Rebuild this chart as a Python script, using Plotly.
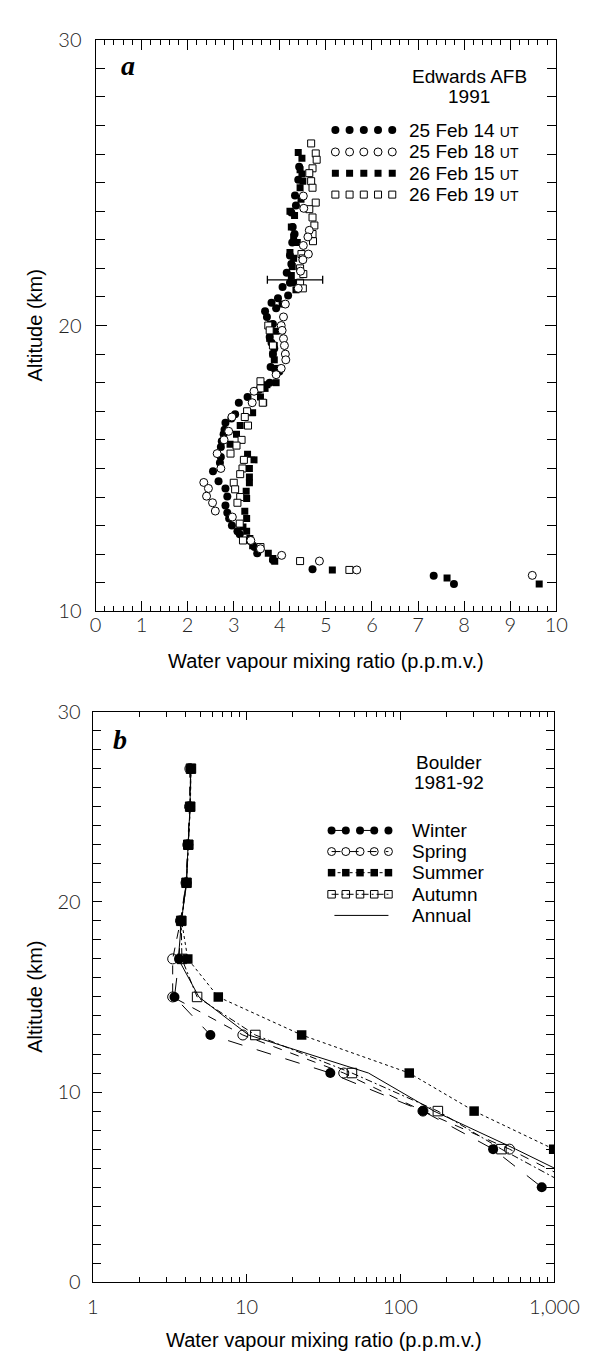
import plotly.graph_objects as go

W, H = 596, 1358

# ---------------- Panel a : Edwards AFB 1991 (altitude km, mixing ratio ppmv) ----------------
a_s1_alt = [25.55, 25.1, 24.55, 24.2, 23.95, 23.45, 23.2, 22.9, 22.45, 22.15, 21.85, 21.5, 21.35, 21.05,
            20.95, 20.8, 20.6, 20.5, 20.3, 20.05, 19.8, 19.6, 19.4, 19.2, 19.0, 18.55, 18.45, 18.39, 18.0,
            17.75, 17.5, 17.3, 16.9, 16.75, 16.6, 16.35, 16.2, 15.95, 15.75, 15.4, 15.2, 14.9, 14.55, 14.3,
            14.02, 13.7, 13.45, 13.25, 13.0, 12.8, 12.7, 12.46, 12.25, 12.03, 11.8, 11.47, 11.25, 10.96]
a_s1_val = [4.42, 4.40, 4.33, 4.35, 4.25, 4.28, 4.32, 4.27, 4.22, 4.25, 4.15, 4.22, 4.06, 4.18,
            3.96, 3.82, 3.92, 3.68, 3.72, 3.85, 3.80, 3.78, 3.82, 3.88, 3.85, 3.80, 3.90, 3.99, 3.78,
            3.55, 3.30, 3.11, 3.03, 2.95, 2.82, 2.80, 2.78, 2.74, 2.72, 2.72, 2.70, 2.55, 2.67, 2.82,
            2.86, 2.82, 2.86, 2.90, 2.96, 3.08, 3.13, 3.36, 3.45, 3.51, 3.85, 4.71, 7.34, 7.78]

a_s2_alt = [24.53, 24.1, 23.33, 23.1, 22.8, 22.5, 22.3, 21.9, 21.3, 20.75, 20.3, 20.0, 19.83, 19.54,
            19.3, 19.0, 18.8, 18.5, 18.28, 17.7, 17.3, 16.8, 16.3, 16.0, 15.52, 15.0, 14.51, 14.3, 14.03,
            13.8, 13.51, 13.3, 12.48, 12.19, 11.96, 11.76, 11.45, 11.26]
a_s2_val = [4.51, 4.52, 4.64, 4.61, 4.51, 4.62, 4.50, 4.45, 4.40, 4.12, 4.08, 4.03, 4.05, 4.08,
            4.10, 4.12, 4.13, 4.03, 3.92, 3.44, 3.40, 2.96, 2.89, 2.79, 2.64, 2.72, 2.35, 2.45, 2.41,
            2.54, 2.60, 2.97, 3.37, 3.58, 4.04, 4.86, 5.67, 9.48]

a_s3_alt = [26.05, 25.85, 25.45, 25.3, 25.05, 24.82, 24.42, 24.0, 23.85, 23.45, 23.1, 22.9, 22.55, 22.35,
            22.06, 21.75, 21.5, 21.25, 20.75, 20.05, 19.8, 19.55, 19.3, 19.0, 18.8, 18.5, 18.0, 17.93,
            17.8, 17.5, 17.3, 16.95, 16.5, 16.2, 15.85, 15.5, 15.3, 15.0, 14.7, 14.5, 14.2, 13.95, 13.5,
            13.25, 12.95, 12.8, 12.55, 12.3, 12.03, 11.85, 11.75, 11.45, 11.17, 10.96]
a_s3_val = [4.40, 4.48, 4.44, 4.48, 4.50, 4.44, 4.46, 4.22, 4.32, 4.25, 4.30, 4.38, 4.22, 4.30,
            4.27, 4.25, 4.30, 4.35, 4.05, 3.80, 3.92, 3.78, 3.88, 3.85, 3.88, 3.95, 3.92, 3.72,
            3.68, 3.58, 3.65, 3.41, 3.14, 3.06, 2.92, 3.30, 3.44, 3.34, 3.34, 3.34, 3.27, 3.28, 3.24,
            3.28, 3.20, 3.28, 3.35, 3.41, 3.75, 3.85, 3.89, 5.14, 7.63, 9.63]

a_s4_alt = [26.37, 26.02, 25.8, 25.5, 25.33, 25.05, 24.82, 24.3, 24.07, 23.78, 23.5, 23.2, 22.95, 22.5,
            22.35, 22.0, 21.8, 21.5, 21.3, 20.0, 19.83, 19.3, 18.05, 17.8, 17.3, 17.0, 16.8, 16.5, 16.0,
            15.8, 15.52, 15.3, 15.0, 14.8, 14.5, 14.27, 14.0, 13.8, 13.07, 12.48, 12.25, 11.76, 11.45]
a_s4_val = [4.68, 4.78, 4.80, 4.71, 4.64, 4.68, 4.71, 4.78, 4.64, 4.71, 4.75, 4.71, 4.72, 4.47,
            4.50, 4.44, 4.51, 4.44, 4.50, 3.75, 3.78, 3.85, 3.58, 3.58, 3.63, 3.29, 3.24, 3.31, 3.17,
            3.06, 2.93, 3.22, 3.19, 3.14, 3.00, 3.03, 3.14, 3.08, 3.13, 3.20, 3.58, 4.44, 5.51]

a_err_alt = [21.6]
a_err_val = [4.33]
a_err_half = [0.6]

a_names = ["25 Feb 14 ", "25 Feb 18 ", "26 Feb 15 ", "26 Feb 19 "]

# ---------------- Panel b : Boulder 1981-92 ----------------
b_alt = [27, 25, 23, 21, 19, 17, 15, 13, 11, 9, 7, 5]
b_winter = [4.33, 4.29, 4.17, 4.06, 3.74, 3.64, 3.40, 5.82, 35.0, 140, 400, 828]
b_spring = [4.28, 4.26, 4.15, 4.04, 3.72, 3.31, 3.31, 9.46, 42.8, 140, 511, 1560]
b_summer = [4.36, 4.31, 4.19, 4.08, 3.78, 4.15, 6.55, 22.8, 114, 301, 990, 3000]
b_autumn = [4.35, 4.30, 4.18, 4.07, 3.76, 3.80, 4.77, 11.4, 48.4, 175, 453, 1300]
b_annual = [4.33, 4.29, 4.17, 4.06, 3.78, 3.60, 4.90, 10.3, 62.0, 165, 560, 1790]
b_names = ["Winter", "Spring", "Summer", "Autumn", "Annual"]

x_a_ticks = list(range(0, 11))
y_a_ticks = [10, 20, 30]
x_b_ticks = [1, 10, 100, 1000]
x_b_text = ["1", "10", "100", "1,000"]
y_b_ticks = [0, 10, 20, 30]

# ---------------- layout geometry (pixels) ----------------
A_L, A_R, A_T, A_B = 86, 572, 19, 601
B_L, B_R, B_T, B_B = 83, 570, 703, 1284


def xp(px):
    return px / W


def yp(py):
    return 1 - py / H


fig = go.Figure()

BLACK = "black"
filled_c = dict(symbol="circle", size=8, color=BLACK, line=dict(width=0))
open_c = dict(symbol="circle", size=8, color="white", line=dict(width=1, color=BLACK))
filled_s = dict(symbol="square", size=7, color=BLACK, line=dict(width=0))
open_s = dict(symbol="square", size=7, color="white", line=dict(width=1, color=BLACK))
styles_a = [filled_c, open_c, filled_s, open_s]
series_a = [(a_s1_val, a_s1_alt), (a_s2_val, a_s2_alt), (a_s3_val, a_s3_alt), (a_s4_val, a_s4_alt)]

for idx in [0, 2, 3, 1]:
    xs, ys = series_a[idx]
    fig.add_trace(go.Scatter(x=xs, y=ys, mode="markers", marker=styles_a[idx],
                             xaxis="x", yaxis="y", showlegend=False, cliponaxis=True))

fig.add_trace(go.Scatter(x=a_err_val, y=a_err_alt, mode="markers",
                         marker=dict(size=1, color="rgba(0,0,0,0)"),
                         error_x=dict(type="data", array=a_err_half, color=BLACK, thickness=1.3, width=4),
                         xaxis="x", yaxis="y", showlegend=False))

# panel b
b_series = [b_winter, b_spring, b_summer, b_autumn]
b_markers = [
    dict(symbol="circle", size=10, color=BLACK),
    dict(symbol="circle-open", size=10, color=BLACK, line=dict(width=1)),
    dict(symbol="square", size=9.5, color=BLACK),
    dict(symbol="square-open", size=9.5, color=BLACK, line=dict(width=1)),
]
b_dash = ["longdash", "dash", "dot", "7px,3px,2px,3px"]
fig.add_trace(go.Scatter(x=b_annual, y=b_alt, mode="lines", line=dict(color=BLACK, width=1),
                         xaxis="x2", yaxis="y2", showlegend=False))
for s, m, d in zip(b_series, b_markers, b_dash):
    fig.add_trace(go.Scatter(x=s, y=b_alt, mode="lines+markers", marker=m,
                             line=dict(color=BLACK, width=1, dash=d),
                             xaxis="x2", yaxis="y2", showlegend=False))

# ---------------- legend glyphs on a pixel overlay axis ----------------
leg_a_x = [339, 354, 369, 384, 399]
leg_a_y = [111, 133.3, 155, 176.7]
for idx in range(4):
    fig.add_trace(go.Scatter(x=leg_a_x, y=[leg_a_y[idx]] * 5, mode="markers", marker=styles_a[idx],
                             xaxis="x3", yaxis="y3", showlegend=False, hoverinfo="skip"))

leg_b_x = [335, 350, 365, 380, 395]
leg_b_y = [824, 845.5, 867, 889, 910.5]
for i, (m, d) in enumerate(zip(b_markers, b_dash)):
    mm = dict(m)
    mm["size"] = m["size"] - 2
    fig.add_trace(go.Scatter(x=leg_b_x, y=[leg_b_y[i]] * 5, mode="lines+markers", marker=mm,
                             line=dict(color=BLACK, width=1, dash=d),
                             xaxis="x3", yaxis="y3", showlegend=False, hoverinfo="skip"))
fig.add_trace(go.Scatter(x=[338, 395], y=[leg_b_y[4]] * 2, mode="lines", line=dict(color=BLACK, width=1),
                         xaxis="x3", yaxis="y3", showlegend=False, hoverinfo="skip"))

tickfont = dict(family="Lato, Liberation Sans, sans-serif", size=20, color="#222", weight=300)
axis_common = dict(showline=True, linecolor=BLACK, linewidth=1, mirror="ticks", ticks="inside",
                   tickcolor=BLACK, tickwidth=1, showgrid=False, zeroline=False, tickfont=tickfont)

fig.update_layout(
    width=W, height=H, margin=dict(l=0, r=0, t=0, b=0),
    paper_bgcolor="white", plot_bgcolor="rgba(0,0,0,0)",
    xaxis=dict(domain=[xp(A_L), xp(A_R)], range=[0, 10], anchor="y", tickmode="array",
               tickvals=x_a_ticks, ticklen=10, minor=dict(dtick=0.2, ticklen=5, ticks="inside",
                                                           tickcolor=BLACK),
               ticklabelstandoff=-4, **axis_common),
    yaxis=dict(domain=[yp(A_B), yp(A_T)], range=[10, 30], anchor="x", tickmode="array",
               tickvals=y_a_ticks, ticklen=11, minor=dict(dtick=1, ticklen=9, ticks="inside",
                                                          tickcolor=BLACK),
               ticklabelstandoff=9, **axis_common),
    xaxis2=dict(domain=[xp(B_L), xp(B_R)], type="log", range=[0, 3], anchor="y2", tickmode="array",
                tickvals=x_b_ticks, ticktext=x_b_text, ticklen=8,
                minor=dict(dtick="D1", ticklen=5, ticks="inside", tickcolor=BLACK),
                ticklabelstandoff=7, **axis_common),
    yaxis2=dict(domain=[yp(B_B), yp(B_T)], range=[0, 30], anchor="x2", tickmode="array",
                tickvals=y_b_ticks, ticklen=9, minor=dict(dtick=1, ticklen=8, ticks="inside",
                                                          tickcolor=BLACK),
                ticklabelstandoff=7, **axis_common),
    xaxis3=dict(domain=[0, 1], range=[0, W], anchor="y3", visible=False, fixedrange=True),
    yaxis3=dict(domain=[0, 1], range=[H, 0], anchor="x3", visible=False, fixedrange=True),
)

txt = dict(family="Liberation Sans, Arial, sans-serif", size=19, color=BLACK)
title_font = dict(family="Liberation Sans, Arial, sans-serif", size=20, color=BLACK)
ann = []
# axis titles
ann.append(dict(x=xp(22), y=yp((A_T + A_B) / 2), text="Altitude (km)", textangle=-90, font=title_font))
ann.append(dict(x=xp(22), y=yp((B_T + B_B) / 2), text="Altitude (km)", textangle=-90, font=title_font))
ann.append(dict(x=xp((A_L + A_R) / 2), y=yp(652), text="Water vapour mixing ratio (p.p.m.v.)", font=title_font))
ann.append(dict(x=xp((B_L + B_R) / 2), y=yp(1343), text="Water vapour mixing ratio (p.p.m.v.)", font=title_font))
# panel letters
letter = dict(family="Liberation Serif, Times New Roman, serif", size=28, color=BLACK, style="italic", weight="bold")
ann.append(dict(x=xp(120), y=yp(45), text="a", font=letter))
ann.append(dict(x=xp(112), y=yp(731), text="b", font=letter))
# legend a
ann.append(dict(x=xp(480), y=yp(57), text="Edwards AFB", font=txt))
ann.append(dict(x=xp(480), y=yp(77), text="1991", font=txt))
for i, nm in enumerate(a_names):
    ann.append(dict(x=xp(415), y=yp(leg_a_y[i]), xanchor="left",
                    text=nm + "<span style='font-size:14px'>UT</span>", font=txt))
# legend b
ann.append(dict(x=xp(459), y=yp(755), text="Boulder", font=txt))
ann.append(dict(x=xp(459), y=yp(775), text="1981-92", font=txt))
for i, nm in enumerate(b_names):
    ann.append(dict(x=xp(418), y=yp(leg_b_y[i]), xanchor="left", text=nm, font=txt))

for a in ann:
    a.setdefault("xanchor", "center")
    a.setdefault("yanchor", "middle")
    a.update(xref="paper", yref="paper", showarrow=False)
fig.update_layout(annotations=ann)

fig.write_html("out.html")
